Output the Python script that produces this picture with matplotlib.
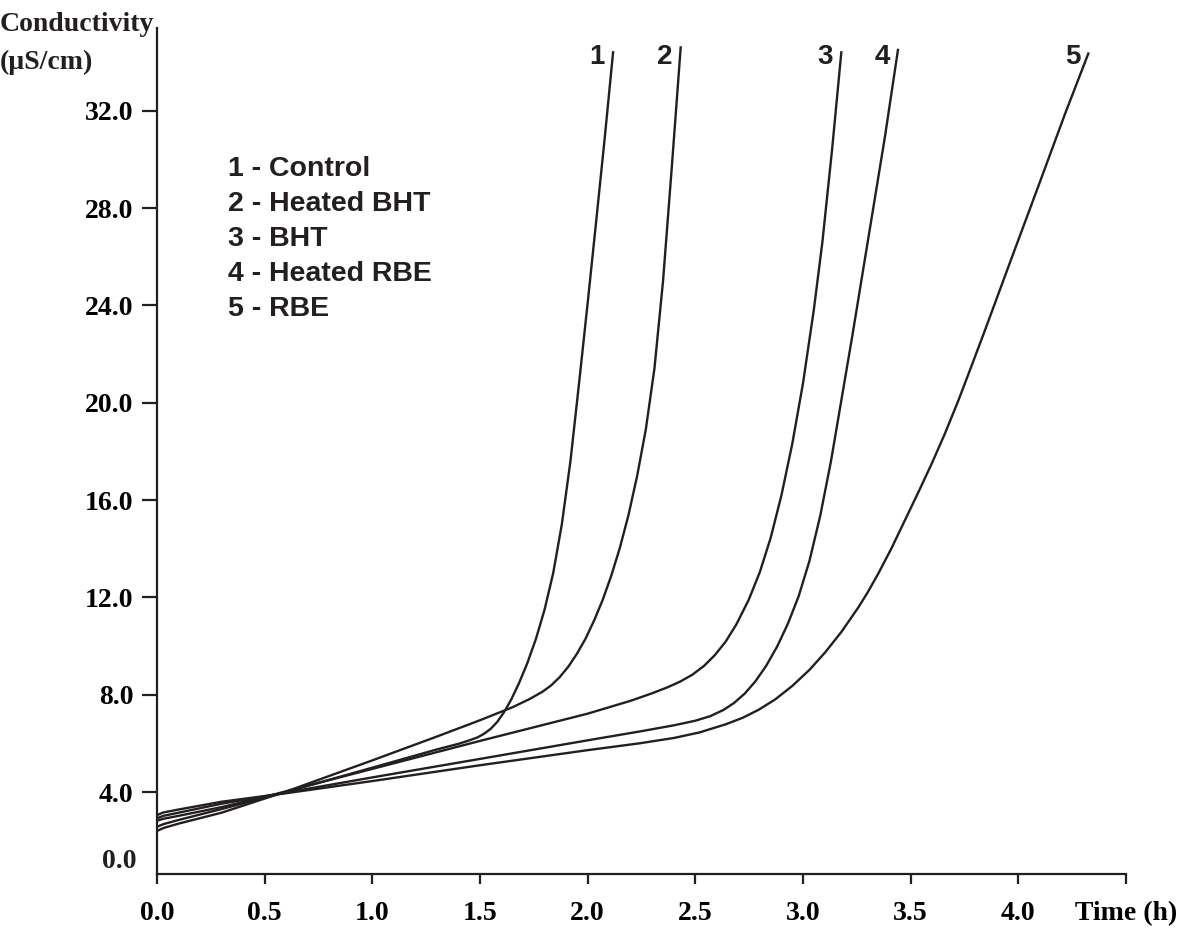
import matplotlib
matplotlib.use('Agg')
import matplotlib.pyplot as plt
from matplotlib import transforms


# ---------------------------------------------------------------------
# Data
# ---------------------------------------------------------------------

series_names = ['Control', 'Heated BHT', 'BHT', 'Heated RBE', 'RBE']

# 1 - Control
t_control = [0, 0.03, 0.1, 0.3, 0.55, 1.0, 1.3, 1.40, 1.45, 1.49, 1.52, 1.55,
             1.58, 1.613, 1.645, 1.68, 1.72, 1.76, 1.80, 1.84, 1.88, 1.92,
             1.96, 2.00, 2.04, 2.08, 2.118]
c_control = [2.57, 2.68, 2.85, 3.3, 3.88, 5.0, 5.75, 5.98, 6.12, 6.25, 6.4,
             6.6, 6.88, 7.3, 7.8, 8.45, 9.3, 10.3, 11.5, 13.0, 15.0, 17.6,
             20.8, 24.1, 27.5, 30.95, 34.4]

# 2 - Heated BHT
t_heated_bht = [0, 0.03, 0.1, 0.3, 0.6, 1.0, 1.3, 1.5, 1.65, 1.73, 1.79, 1.83,
                1.87, 1.91, 1.95, 1.99, 2.03, 2.07, 2.11, 2.15, 2.19, 2.23,
                2.27, 2.31, 2.35, 2.39, 2.432]
c_heated_bht = [2.4, 2.52, 2.7, 3.15, 4.02, 5.3, 6.28, 6.95, 7.48, 7.82, 8.12,
                8.38, 8.72, 9.15, 9.68, 10.3, 11.05, 11.9, 12.9, 14.05, 15.4,
                17.0, 18.9, 21.4, 25.0, 29.6, 34.6]

# 3 - BHT
t_bht = [0, 0.03, 0.1, 0.3, 0.5, 1.0, 1.5, 2.0, 2.2, 2.3, 2.37, 2.43, 2.486,
         2.54, 2.59, 2.64, 2.69, 2.748, 2.80, 2.85, 2.90, 2.95, 3.00, 3.05,
         3.09, 3.135, 3.178]
c_bht = [2.82, 2.9, 3.02, 3.38, 3.8, 4.95, 6.1, 7.22, 7.75, 8.06, 8.3, 8.54,
         8.82, 9.18, 9.62, 10.17, 10.88, 11.9, 13.05, 14.45, 16.2, 18.3, 20.8,
         23.8, 26.6, 30.4, 34.4]

# 4 - Heated RBE
t_heated_rbe = [0, 0.03, 0.1, 0.3, 0.55, 1.0, 1.5, 2.05, 2.25, 2.40, 2.50,
                2.57, 2.63, 2.68, 2.73, 2.78, 2.83, 2.88, 2.93, 2.98, 3.03,
                3.08, 3.13, 3.18, 3.23, 3.28, 3.33, 3.38, 3.441]
c_heated_rbe = [2.92, 3.02, 3.15, 3.52, 3.9, 4.6, 5.36, 6.2, 6.5, 6.74, 6.93,
                7.12, 7.37, 7.66, 8.05, 8.56, 9.2, 9.98, 10.92, 12.05, 13.5,
                15.35, 17.6, 20.2, 22.8, 25.5, 28.2, 30.9, 34.5]

# 5 - RBE
t_rbe = [0, 0.03, 0.1, 0.3, 0.6, 1.0, 1.5, 2.0, 2.24, 2.40, 2.52, 2.64, 2.72,
         2.794, 2.87, 2.949, 3.03, 3.104, 3.18, 3.258, 3.30, 3.351, 3.41,
         3.475, 3.54, 3.598, 3.66, 3.722, 3.78, 3.846, 3.969, 4.093, 4.216,
         4.325]
c_rbe = [3.05, 3.16, 3.28, 3.6, 3.95, 4.45, 5.1, 5.72, 6.0, 6.22, 6.45, 6.78,
         7.05, 7.38, 7.8, 8.35, 9.02, 9.75, 10.6, 11.6, 12.2, 13.0, 14.0,
         15.2, 16.4, 17.5, 18.75, 20.1, 21.45, 23.0, 25.95, 28.9, 31.85,
         34.35]

times = [t_control, t_heated_bht, t_bht, t_heated_rbe, t_rbe]
conds = [c_control, c_heated_bht, c_bht, c_heated_rbe, c_rbe]

x_ticks = [0.0, 0.5, 1.0, 1.5, 2.0, 2.5, 3.0, 3.5, 4.0, 4.5]
x_labels = ['0.0', '0.5', '1.0', '1.5', '2.0', '2.5', '3.0', '3.5', '4.0', 'Time (h)']
y_ticks = [4.0, 8.0, 12.0, 16.0, 20.0, 24.0, 28.0, 32.0]
y_labels = ['4.0', '8.0', '12.0', '16.0', '20.0', '24.0', '28.0', '32.0']
y_bottom_label = '0.0'


# ---------------------------------------------------------------------
# Figure
# ---------------------------------------------------------------------

W, H = 1184, 932
serif = 'Liberation Serif'
sans = 'Liberation Sans'
ink = '#231f20'

fig = plt.figure(figsize=(W / 100, H / 100), dpi=100)
ax = fig.add_axes([157 / W, 58 / H, 969 / W, 846 / H])

for t, c in zip(times, conds):
    ax.plot(t, c, color=ink, lw=1.7, solid_joinstyle='round')

ybot, ytop = 0.63, 35.4
ax.set_xlim(0, 4.5)
ax.set_ylim(ybot, ytop)

for s in ['top', 'right']:
    ax.spines[s].set_visible(False)
for s in ['left', 'bottom']:
    ax.spines[s].set_linewidth(1.6)
    ax.spines[s].set_color(ink)

ax.set_xticks(x_ticks)
ax.set_xticklabels(x_labels, fontfamily=serif, fontweight='bold', fontsize=20)
ax.set_yticks(y_ticks)
ax.set_yticklabels(y_labels, fontfamily=serif, fontweight='bold', fontsize=20)
ax.tick_params(axis='x', direction='out', length=7.5, width=1.6, pad=12, color=ink)
ax.tick_params(axis='y', direction='out', length=11, width=1.6, pad=6, color=ink)

# bottom y label sits on the origin without a tick
tr = transforms.blended_transform_factory(ax.transAxes, ax.transData)
ax.text(-0.0215, ybot, y_bottom_label, transform=tr, ha='right', va='bottom',
        fontfamily=serif, fontweight='bold', fontsize=20, color=ink)

# y axis title at the top left
fig.text(0, 1 - 31 / H, 'Conductivity', ha='left', va='baseline',
         fontfamily=serif, fontweight='bold', fontsize=20, color=ink)
fig.text(0, 1 - 69 / H, '(µS/cm)', ha='left', va='baseline',
         fontfamily=serif, fontweight='bold', fontsize=20, color=ink)

# legend as plain text lines
for i, name in enumerate(series_names):
    fig.text(228 / W, 1 - (176 + 35 * i) / H, f'{i + 1} - {name}', ha='left',
             va='baseline', fontfamily=sans, fontweight='bold', fontsize=20.5,
             color=ink)

# curve numbers next to the top end of each curve
label_y = 34.2
for i, t in enumerate(times):
    ax.annotate(str(i + 1), xy=(t[-1], label_y), xytext=(-8, 0),
                textcoords='offset pixels', ha='right', va='center',
                fontfamily=sans, fontweight='bold', fontsize=20, color=ink)

fig.savefig('out.png', dpi=100)
